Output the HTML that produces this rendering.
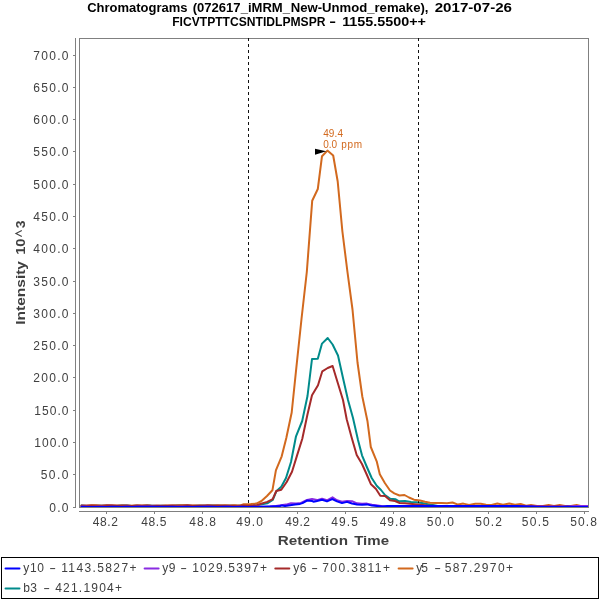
<!DOCTYPE html>
<html><head><meta charset="utf-8"><title>Chromatogram</title>
<style>
html,body{margin:0;padding:0;background:#fff;width:600px;height:600px;overflow:hidden;}
svg{display:block;will-change:transform;}
text{font-family:"Liberation Sans",sans-serif;}
</style></head>
<body>
<svg width="600" height="600" viewBox="0 0 600 600">
<rect x="0" y="0" width="600" height="600" fill="#ffffff"/>

<text x="87.20" y="12.0" font-size="12.5" font-weight="bold" fill="#000" textLength="100.30" lengthAdjust="spacingAndGlyphs">Chromatograms</text>
<text x="192.70" y="12.0" font-size="12.5" font-weight="bold" fill="#000" textLength="97.30" lengthAdjust="spacingAndGlyphs">(072617_iMRM_</text>
<text x="290.70" y="12.0" font-size="12.5" font-weight="bold" fill="#000" textLength="137.80" lengthAdjust="spacingAndGlyphs">New-Unmod_remake),</text>
<text x="434.70" y="12.0" font-size="12.5" font-weight="bold" fill="#000" textLength="77.30" lengthAdjust="spacingAndGlyphs">2017-07-26</text>
<text x="172.20" y="26.0" font-size="12.5" font-weight="bold" fill="#000" textLength="153.30" lengthAdjust="spacingAndGlyphs">FICVTPTTCSNTIDLPMSPR</text>
<text x="329.20" y="26.0" font-size="12.5" font-weight="bold" fill="#000" textLength="6.80" lengthAdjust="spacingAndGlyphs">-</text>
<text x="342.20" y="26.0" font-size="12.5" font-weight="bold" fill="#000" textLength="83.80" lengthAdjust="spacingAndGlyphs">1155.5500++</text>
<rect x="79.5" y="38.5" width="509" height="469" fill="#fff"/>
<path d="M81.5 505.6 L86.5 506.0 L91.6 505.9 L96.6 505.7 L101.7 505.8 L106.7 505.8 L111.8 505.9 L116.8 505.9 L121.9 505.6 L126.9 505.6 L131.9 506.0 L137.0 505.8 L142.0 505.9 L147.1 505.6 L152.1 505.8 L157.2 505.9 L162.2 505.7 L167.2 506.0 L172.3 506.0 L177.3 505.6 L182.4 505.6 L187.4 505.8 L192.5 506.0 L197.5 505.7 L202.6 505.7 L207.6 505.8 L212.6 505.6 L217.7 505.7 L222.7 505.8 L227.8 505.8 L232.8 505.7 L237.9 505.7 L242.9 505.7 L248.0 505.8 L253.0 505.7 L257.0 505.4 L262.0 504.2 L267.3 503.3 L272.7 500.0 L276.3 491.3 L281.3 486.7 L286.0 478.0 L291.0 462.0 L296.0 436.3 L302.2 421.0 L307.5 396.0 L312.0 359.0 L317.8 358.7 L322.0 343.6 L327.7 338.0 L332.6 344.5 L338.0 355.5 L343.0 378.0 L348.0 400.0 L353.0 418.0 L358.0 440.0 L362.0 455.3 L367.3 468.0 L371.7 478.0 L376.7 485.7 L381.0 490.0 L385.0 495.0 L390.3 498.7 L395.7 499.3 L399.0 501.3 L405.0 501.0 L411.0 502.0 L416.7 502.2 L422.0 503.0 L428.0 504.2 L434.0 505.3 L439.0 506.2 L443.9 506.0 L448.9 506.4 L453.9 506.4 L458.8 506.2 L463.8 506.3 L468.7 506.1 L473.6 506.1 L478.6 506.1 L483.6 506.3 L488.5 506.1 L493.4 506.4 L498.4 506.0 L503.4 506.0 L508.3 506.0 L513.2 506.3 L518.2 506.1 L523.1 506.2 L528.1 506.1 L533.0 506.3 L538.0 506.2 L543.0 506.1 L547.9 506.2 L552.9 506.1 L557.8 506.0 L562.8 506.4 L567.7 506.3 L572.6 506.3 L577.6 506.4 L582.5 506.1 L587.5 506.1" fill="none" stroke="#008B8B" stroke-width="2" stroke-linejoin="round" stroke-linecap="round"/>
<line x1="248.5" y1="38" x2="248.5" y2="507" stroke="#111" stroke-width="1" stroke-dasharray="3 3"/>
<line x1="418.5" y1="38" x2="418.5" y2="507" stroke="#111" stroke-width="1" stroke-dasharray="3 3"/>
<path d="M81.5 505.9 L86.4 505.9 L91.4 505.3 L96.3 505.3 L101.3 505.8 L106.2 505.8 L111.2 505.7 L116.1 505.5 L121.0 505.7 L126.0 505.7 L130.9 505.7 L135.9 505.4 L140.8 505.6 L145.8 505.5 L150.7 505.8 L155.7 505.9 L160.6 505.9 L165.5 505.6 L170.5 505.6 L175.4 505.4 L180.4 505.3 L185.3 505.3 L190.3 505.6 L195.2 505.5 L200.1 505.5 L205.1 505.9 L210.0 505.6 L215.0 505.6 L219.9 505.4 L224.9 505.3 L229.8 505.5 L234.8 505.3 L239.7 505.6 L243.7 504.3 L250.9 504.0 L256.5 503.6 L261.5 501.0 L267.0 496.0 L272.4 490.3 L275.9 470.3 L281.7 456.3 L286.3 438.0 L291.7 412.5 L296.5 366.2 L301.5 319.0 L306.8 272.0 L312.2 200.8 L317.8 189.0 L322.0 156.2 L327.4 150.6 L333.2 155.5 L337.7 181.5 L342.4 231.5 L347.4 271.5 L352.5 309.5 L357.5 362.5 L362.3 396.5 L367.5 421.3 L370.8 447.0 L376.7 461.3 L379.8 474.3 L385.0 483.3 L390.0 490.5 L394.3 493.3 L399.5 495.5 L404.5 495.0 L409.0 497.5 L414.0 499.7 L420.0 500.5 L425.0 501.8 L430.0 502.8 L436.0 503.0 L441.7 503.0 L447.0 503.2 L452.5 502.5 L458.0 504.6 L463.3 503.6 L469.0 504.9 L475.3 503.8 L480.7 503.8 L486.0 504.8 L491.5 504.9 L497.3 503.6 L503.0 504.8 L509.3 503.6 L515.0 504.8 L520.6 503.9 L526.0 505.8 L531.0 505.0 L537.0 505.9 L543.0 505.9 L548.6 505.0 L554.0 505.9 L559.7 505.0 L565.0 505.9 L571.0 505.9 L576.6 504.9 L580.7 505.9" fill="none" stroke="#D2691E" stroke-width="2" stroke-linejoin="round" stroke-linecap="round"/>
<path d="M81.5 505.4 L86.5 505.6 L91.6 505.5 L96.6 505.7 L101.7 505.7 L106.7 505.3 L111.8 505.3 L116.8 505.8 L121.9 505.5 L126.9 505.4 L131.9 505.9 L137.0 505.6 L142.0 505.8 L147.1 505.6 L152.1 505.7 L157.2 505.4 L162.2 505.7 L167.2 505.8 L172.3 505.6 L177.3 505.7 L182.4 505.7 L187.4 505.3 L192.5 505.8 L197.5 505.7 L202.6 505.5 L207.6 505.3 L212.6 505.8 L217.7 505.6 L222.7 505.7 L227.8 505.8 L232.8 505.7 L237.9 505.9 L242.9 505.5 L248.0 505.8 L253.0 505.6 L257.0 505.2 L262.0 503.4 L267.3 501.9 L272.7 499.2 L276.3 491.0 L281.3 489.7 L286.7 482.0 L292.0 471.7 L297.0 455.6 L302.3 438.7 L307.4 414.7 L312.0 395.3 L318.0 385.3 L322.3 371.3 L327.7 368.0 L332.6 366.0 L337.8 383.0 L343.0 400.0 L346.7 419.3 L351.5 437.0 L356.7 455.0 L362.0 464.0 L366.5 474.0 L371.0 484.3 L376.0 489.0 L380.3 495.7 L385.0 496.0 L390.0 500.3 L395.0 501.0 L399.7 503.0 L405.0 503.3 L410.0 503.8 L415.0 504.3 L421.0 504.8 L427.0 505.4 L433.0 505.8 L438.0 506.5 L443.0 506.2 L448.0 506.3 L452.9 506.3 L457.9 506.0 L462.9 505.9 L467.9 506.3 L472.9 506.0 L477.9 506.1 L482.9 506.4 L487.8 506.4 L492.8 506.0 L497.8 505.9 L502.8 506.0 L507.8 506.4 L512.8 505.9 L517.7 506.0 L522.7 506.0 L527.7 506.0 L532.7 506.2 L537.7 506.0 L542.6 506.1 L547.6 506.3 L552.6 506.3 L557.6 506.1 L562.6 506.4 L567.6 506.2 L572.5 506.4 L577.5 506.0 L582.5 506.1 L587.5 506.2" fill="none" stroke="#A52A2A" stroke-width="2" stroke-linejoin="round" stroke-linecap="round"/>
<path d="M81.5 506.8 L86.5 506.7 L91.6 506.9 L96.6 506.8 L101.7 506.7 L106.7 506.9 L111.8 507.1 L116.8 507.0 L121.8 507.0 L126.9 506.8 L131.9 506.9 L137.0 506.8 L142.0 506.8 L147.1 506.7 L152.1 506.8 L157.1 507.1 L162.2 507.0 L167.2 507.0 L172.3 507.0 L177.3 506.8 L182.4 506.8 L187.4 507.0 L192.4 507.0 L197.5 507.0 L202.5 507.1 L207.6 506.7 L212.6 506.9 L217.7 507.0 L222.7 506.9 L227.7 506.8 L232.8 506.9 L237.8 506.7 L242.9 507.1 L247.9 507.0 L253.0 506.9 L258.0 506.8 L262.0 506.8 L270.0 506.4 L276.0 505.9 L281.0 505.2 L286.0 504.6 L291.0 503.3 L296.0 503.4 L301.0 503.0 L307.0 500.0 L312.0 499.1 L317.0 500.1 L322.0 498.7 L327.0 500.3 L332.5 497.3 L337.0 500.3 L342.0 501.8 L347.0 501.1 L352.0 501.2 L357.0 503.3 L362.0 503.8 L367.0 503.6 L372.0 504.8 L376.0 505.2 L381.0 506.0 L386.0 506.7 L391.0 506.6 L396.1 506.6 L401.1 506.4 L406.1 506.4 L411.2 506.6 L416.2 506.6 L421.3 506.3 L426.3 506.4 L431.3 506.7 L436.4 506.3 L441.4 506.6 L446.4 506.4 L451.5 506.6 L456.5 506.6 L461.6 506.5 L466.6 506.5 L471.6 506.4 L476.7 506.5 L481.7 506.6 L486.8 506.5 L491.8 506.5 L496.8 506.5 L501.9 506.4 L506.9 506.4 L511.9 506.5 L517.0 506.3 L522.0 506.5 L527.0 506.6 L532.1 506.6 L537.1 506.4 L542.2 506.5 L547.2 506.7 L552.2 506.4 L557.3 506.7 L562.3 506.4 L567.4 506.6 L572.4 506.3 L577.4 506.0 L582.5 506.0 L587.5 505.9" fill="none" stroke="#8A2BE2" stroke-width="2" stroke-linejoin="round" stroke-linecap="round"/>
<path d="M81.5 506.8 L86.5 506.9 L91.6 506.9 L96.6 506.9 L101.7 506.9 L106.7 506.9 L111.8 506.7 L116.8 506.8 L121.8 506.9 L126.9 506.8 L131.9 506.9 L137.0 506.7 L142.0 506.8 L147.1 506.7 L152.1 506.8 L157.1 506.8 L162.2 506.7 L167.2 506.7 L172.3 506.7 L177.3 506.9 L182.4 506.9 L187.4 506.7 L192.4 506.9 L197.5 506.7 L202.5 506.8 L207.6 506.7 L212.6 506.7 L217.7 506.9 L222.7 506.7 L227.7 506.7 L232.8 506.9 L237.8 506.9 L242.9 506.7 L247.9 506.9 L253.0 506.8 L258.0 506.9 L262.0 506.8 L270.0 506.5 L276.0 506.2 L280.0 506.0 L282.0 505.4 L285.0 505.9 L290.0 505.2 L295.0 504.4 L300.0 503.9 L302.5 503.1 L307.0 500.6 L312.0 501.0 L313.5 501.7 L317.0 501.0 L322.0 499.8 L327.0 501.4 L332.3 499.1 L337.0 501.4 L342.0 503.1 L347.0 501.9 L352.0 503.5 L357.0 504.4 L362.0 504.8 L367.0 504.4 L372.0 505.6 L377.0 506.0 L382.0 506.4 L387.0 506.1 L392.0 506.0 L397.0 506.1 L402.0 506.1 L407.1 505.9 L412.1 506.1 L417.1 506.0 L422.1 505.9 L427.1 506.0 L432.1 506.1 L437.1 505.9 L442.1 506.0 L447.1 506.0 L452.2 505.9 L457.2 506.0 L462.2 506.0 L467.2 506.0 L472.2 506.1 L477.2 506.1 L482.2 505.9 L487.2 506.1 L492.3 506.0 L497.3 506.1 L502.3 506.1 L507.3 506.0 L512.3 505.9 L517.3 506.1 L522.3 506.3 L527.4 506.5 L532.4 506.6 L537.4 506.9 L542.4 506.9 L547.4 507.0 L552.4 507.0 L557.4 507.0 L562.4 506.9 L567.5 506.8 L572.5 506.9 L577.5 506.9 L582.5 506.9 L587.5 506.9" fill="none" stroke="#0000FF" stroke-width="2" stroke-linejoin="round" stroke-linecap="round"/>
<rect x="79.5" y="38.5" width="509" height="469" fill="none" stroke="#808080" stroke-width="1"/>
<rect x="248" y="38" width="1" height="1" fill="#111"/><rect x="418" y="38" width="1" height="1" fill="#111"/>
<path d="M315 148.8 L326.3 151.3 L315 154.8 Z" fill="#000"/>
<text x="323.20" y="137.0" font-size="10" font-weight="normal" fill="#D2691E" textLength="19.80" lengthAdjust="spacing">49.4</text>
<text x="323.20" y="148.0" font-size="10" font-weight="normal" fill="#D2691E" textLength="13.80" lengthAdjust="spacing">0.0</text>
<text x="341.20" y="148.0" font-size="10" font-weight="normal" fill="#D2691E" textLength="20.80" lengthAdjust="spacing">ppm</text>
<line x1="75.5" y1="38" x2="75.5" y2="508" stroke="#808080" stroke-width="1"/>
<line x1="73" y1="507.5" x2="75" y2="507.5" stroke="#808080" stroke-width="1"/>
<line x1="73" y1="474.5" x2="75" y2="474.5" stroke="#808080" stroke-width="1"/>
<line x1="73" y1="442.5" x2="75" y2="442.5" stroke="#808080" stroke-width="1"/>
<line x1="73" y1="410.5" x2="75" y2="410.5" stroke="#808080" stroke-width="1"/>
<line x1="73" y1="377.5" x2="75" y2="377.5" stroke="#808080" stroke-width="1"/>
<line x1="73" y1="345.5" x2="75" y2="345.5" stroke="#808080" stroke-width="1"/>
<line x1="73" y1="313.5" x2="75" y2="313.5" stroke="#808080" stroke-width="1"/>
<line x1="73" y1="281.5" x2="75" y2="281.5" stroke="#808080" stroke-width="1"/>
<line x1="73" y1="248.5" x2="75" y2="248.5" stroke="#808080" stroke-width="1"/>
<line x1="73" y1="216.5" x2="75" y2="216.5" stroke="#808080" stroke-width="1"/>
<line x1="73" y1="184.5" x2="75" y2="184.5" stroke="#808080" stroke-width="1"/>
<line x1="73" y1="151.5" x2="75" y2="151.5" stroke="#808080" stroke-width="1"/>
<line x1="73" y1="119.5" x2="75" y2="119.5" stroke="#808080" stroke-width="1"/>
<line x1="73" y1="87.5" x2="75" y2="87.5" stroke="#808080" stroke-width="1"/>
<line x1="73" y1="55.5" x2="75" y2="55.5" stroke="#808080" stroke-width="1"/>
<text x="49.20" y="512.2" font-size="12" font-weight="normal" fill="#404040" textLength="19.30" lengthAdjust="spacing">0.0</text>
<text x="40.70" y="479.2" font-size="12" font-weight="normal" fill="#404040" textLength="27.80" lengthAdjust="spacing">50.0</text>
<text x="34.20" y="447.2" font-size="12" font-weight="normal" fill="#404040" textLength="34.30" lengthAdjust="spacing">100.0</text>
<text x="34.20" y="415.2" font-size="12" font-weight="normal" fill="#404040" textLength="34.30" lengthAdjust="spacing">150.0</text>
<text x="33.20" y="382.2" font-size="12" font-weight="normal" fill="#404040" textLength="35.30" lengthAdjust="spacing">200.0</text>
<text x="33.20" y="350.2" font-size="12" font-weight="normal" fill="#404040" textLength="35.30" lengthAdjust="spacing">250.0</text>
<text x="33.20" y="318.2" font-size="12" font-weight="normal" fill="#404040" textLength="35.30" lengthAdjust="spacing">300.0</text>
<text x="33.20" y="286.2" font-size="12" font-weight="normal" fill="#404040" textLength="35.30" lengthAdjust="spacing">350.0</text>
<text x="33.20" y="253.2" font-size="12" font-weight="normal" fill="#404040" textLength="35.30" lengthAdjust="spacing">400.0</text>
<text x="33.20" y="221.2" font-size="12" font-weight="normal" fill="#404040" textLength="35.30" lengthAdjust="spacing">450.0</text>
<text x="33.20" y="189.2" font-size="12" font-weight="normal" fill="#404040" textLength="35.30" lengthAdjust="spacing">500.0</text>
<text x="33.20" y="156.2" font-size="12" font-weight="normal" fill="#404040" textLength="35.30" lengthAdjust="spacing">550.0</text>
<text x="33.20" y="124.2" font-size="12" font-weight="normal" fill="#404040" textLength="35.30" lengthAdjust="spacing">600.0</text>
<text x="33.20" y="92.2" font-size="12" font-weight="normal" fill="#404040" textLength="35.30" lengthAdjust="spacing">650.0</text>
<text x="33.20" y="60.2" font-size="12" font-weight="normal" fill="#404040" textLength="35.30" lengthAdjust="spacing">700.0</text>
<text transform="translate(25,0) rotate(-90)" x="-324.80" y="0" font-size="13.5" font-weight="bold" fill="#404040" textLength="63.80" lengthAdjust="spacingAndGlyphs">Intensity</text>
<text transform="translate(25,0) rotate(-90)" x="-254.80" y="0" font-size="13.5" font-weight="bold" fill="#404040" textLength="16.30" lengthAdjust="spacingAndGlyphs">10</text>
<text transform="translate(25,0) rotate(-90)" x="-228.30" y="0" font-size="13.5" font-weight="bold" fill="#404040" textLength="7.80" lengthAdjust="spacingAndGlyphs">3</text>
<path d="M21.8 230.4 L15.9 233.5 L21.8 236.6" fill="none" stroke="#404040" stroke-width="1.1" stroke-linejoin="miter"/>
<line x1="79" y1="511.5" x2="589" y2="511.5" stroke="#808080" stroke-width="1"/>
<line x1="106.5" y1="512" x2="106.5" y2="514" stroke="#808080" stroke-width="1"/>
<line x1="154.5" y1="512" x2="154.5" y2="514" stroke="#808080" stroke-width="1"/>
<line x1="202.5" y1="512" x2="202.5" y2="514" stroke="#808080" stroke-width="1"/>
<line x1="249.5" y1="512" x2="249.5" y2="514" stroke="#808080" stroke-width="1"/>
<line x1="297.5" y1="512" x2="297.5" y2="514" stroke="#808080" stroke-width="1"/>
<line x1="345.5" y1="512" x2="345.5" y2="514" stroke="#808080" stroke-width="1"/>
<line x1="393.5" y1="512" x2="393.5" y2="514" stroke="#808080" stroke-width="1"/>
<line x1="440.5" y1="512" x2="440.5" y2="514" stroke="#808080" stroke-width="1"/>
<line x1="488.5" y1="512" x2="488.5" y2="514" stroke="#808080" stroke-width="1"/>
<line x1="536.5" y1="512" x2="536.5" y2="514" stroke="#808080" stroke-width="1"/>
<line x1="584.5" y1="512" x2="584.5" y2="514" stroke="#808080" stroke-width="1"/>
<text x="92.70" y="526.0" font-size="12" font-weight="normal" fill="#404040" textLength="25.30" lengthAdjust="spacing">48.2</text>
<text x="141.20" y="526.0" font-size="12" font-weight="normal" fill="#404040" textLength="25.30" lengthAdjust="spacing">48.5</text>
<text x="189.20" y="526.0" font-size="12" font-weight="normal" fill="#404040" textLength="26.80" lengthAdjust="spacing">48.8</text>
<text x="236.20" y="526.0" font-size="12" font-weight="normal" fill="#404040" textLength="26.80" lengthAdjust="spacing">49.0</text>
<text x="285.20" y="526.0" font-size="12" font-weight="normal" fill="#404040" textLength="24.80" lengthAdjust="spacing">49.2</text>
<text x="331.20" y="526.0" font-size="12" font-weight="normal" fill="#404040" textLength="26.80" lengthAdjust="spacing">49.5</text>
<text x="379.70" y="526.0" font-size="12" font-weight="normal" fill="#404040" textLength="26.30" lengthAdjust="spacing">49.8</text>
<text x="426.70" y="526.0" font-size="12" font-weight="normal" fill="#404040" textLength="27.30" lengthAdjust="spacing">50.0</text>
<text x="475.20" y="526.0" font-size="12" font-weight="normal" fill="#404040" textLength="26.80" lengthAdjust="spacing">50.2</text>
<text x="521.70" y="526.0" font-size="12" font-weight="normal" fill="#404040" textLength="27.30" lengthAdjust="spacing">50.5</text>
<text x="570.20" y="526.0" font-size="12" font-weight="normal" fill="#404040" textLength="26.80" lengthAdjust="spacing">50.8</text>
<text x="277.70" y="544.8" font-size="13.5" font-weight="bold" fill="#404040" textLength="70.30" lengthAdjust="spacingAndGlyphs">Retention</text>
<text x="354.20" y="544.8" font-size="13.5" font-weight="bold" fill="#404040" textLength="34.80" lengthAdjust="spacingAndGlyphs">Time</text>
<rect x="1.5" y="557.5" width="597" height="41" fill="#fff" stroke="#000" stroke-width="1"/>
<line x1="5.5" y1="568.5" x2="19.5" y2="568.5" stroke="#0000FF" stroke-width="2" stroke-linecap="round"/>
<line x1="144.6" y1="568.5" x2="158.6" y2="568.5" stroke="#8A2BE2" stroke-width="2" stroke-linecap="round"/>
<line x1="275.3" y1="568.5" x2="289.3" y2="568.5" stroke="#A52A2A" stroke-width="2" stroke-linecap="round"/>
<line x1="398.6" y1="568.5" x2="412.6" y2="568.5" stroke="#D2691E" stroke-width="2" stroke-linecap="round"/>
<line x1="5.5" y1="588.5" x2="19.5" y2="588.5" stroke="#008B8B" stroke-width="2" stroke-linecap="round"/>
<text x="23.20" y="572.0" font-size="12" font-weight="normal" fill="#404040" textLength="20.80" lengthAdjust="spacing">y10</text>
<text x="49.20" y="572.0" font-size="12" font-weight="normal" fill="#404040" textLength="6.80" lengthAdjust="spacingAndGlyphs">-</text>
<text x="61.20" y="572.0" font-size="12" font-weight="normal" fill="#404040" textLength="75.30" lengthAdjust="spacing">1143.5827+</text>
<text x="162.20" y="572.0" font-size="12" font-weight="normal" fill="#404040" textLength="13.30" lengthAdjust="spacing">y9</text>
<text x="180.20" y="572.0" font-size="12" font-weight="normal" fill="#404040" textLength="6.80" lengthAdjust="spacingAndGlyphs">-</text>
<text x="192.20" y="572.0" font-size="12" font-weight="normal" fill="#404040" textLength="74.80" lengthAdjust="spacing">1029.5397+</text>
<text x="293.20" y="572.0" font-size="12" font-weight="normal" fill="#404040" textLength="13.30" lengthAdjust="spacing">y6</text>
<text x="311.20" y="572.0" font-size="12" font-weight="normal" fill="#404040" textLength="6.80" lengthAdjust="spacingAndGlyphs">-</text>
<text x="322.20" y="572.0" font-size="12" font-weight="normal" fill="#404040" textLength="67.80" lengthAdjust="spacing">700.3811+</text>
<text x="416.20" y="572.0" font-size="12" font-weight="normal" fill="#404040" textLength="11.80" lengthAdjust="spacing">y5</text>
<text x="434.20" y="572.0" font-size="12" font-weight="normal" fill="#404040" textLength="6.80" lengthAdjust="spacingAndGlyphs">-</text>
<text x="444.70" y="572.0" font-size="12" font-weight="normal" fill="#404040" textLength="68.30" lengthAdjust="spacing">587.2970+</text>
<text x="23.20" y="591.8" font-size="12" font-weight="normal" fill="#404040" textLength="13.80" lengthAdjust="spacing">b3</text>
<text x="43.20" y="591.8" font-size="12" font-weight="normal" fill="#404040" textLength="6.80" lengthAdjust="spacingAndGlyphs">-</text>
<text x="55.20" y="591.8" font-size="12" font-weight="normal" fill="#404040" textLength="66.80" lengthAdjust="spacing">421.1904+</text>
</svg>
</body></html>
